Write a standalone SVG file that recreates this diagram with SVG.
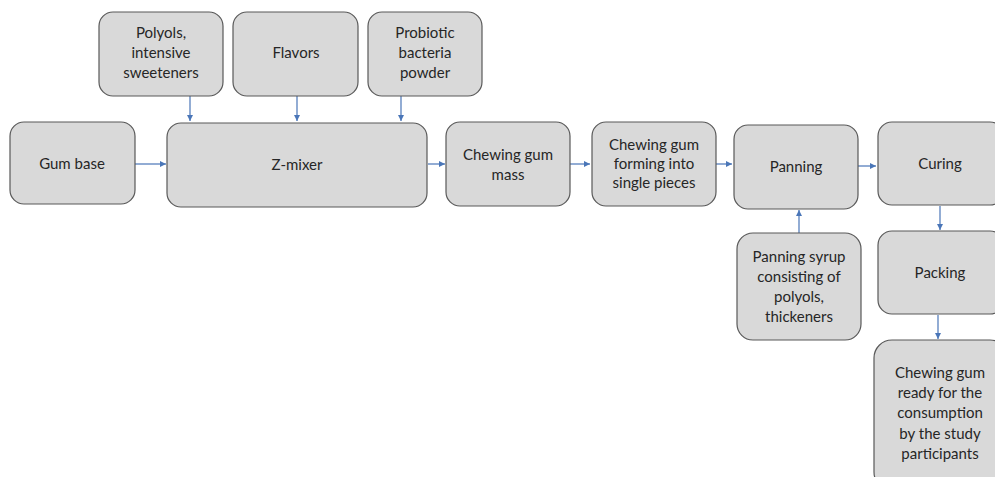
<svg xmlns="http://www.w3.org/2000/svg" width="995" height="477" viewBox="0 0 995 477">
  <style>
    .box { fill: #d9d9d9; stroke: #595959; stroke-width: 1.2; }
    .lbl { font-family: Lato, "Open Sans", "Liberation Sans", sans-serif; font-size: 15px; fill: #262626; text-anchor: middle; }
    .arrow { stroke: #4a76b8; stroke-width: 1.2; fill: none; marker-end: url(#head); }
  </style>
  <defs>
    <marker id="head" viewBox="0 0 10 10" refX="10" refY="5" markerWidth="6" markerHeight="6" markerUnits="userSpaceOnUse" orient="auto">
      <path d="M0,0 L10,5 L0,10 z" fill="#4a76b8"/>
    </marker>
  </defs>
  <rect width="995" height="477" fill="#ffffff"/>

  <g id="connectors">
    <line class="arrow" x1="135" y1="164" x2="166" y2="164"/>
    <line class="arrow" x1="190" y1="96" x2="190" y2="121"/>
    <line class="arrow" x1="297" y1="96" x2="297" y2="121"/>
    <line class="arrow" x1="401" y1="96" x2="401" y2="121"/>
    <line class="arrow" x1="428" y1="164" x2="445" y2="164"/>
    <line class="arrow" x1="570" y1="164" x2="590" y2="164"/>
    <line class="arrow" x1="716" y1="164" x2="732" y2="164"/>
    <line class="arrow" x1="858" y1="166" x2="876" y2="166"/>
    <line class="arrow" x1="799" y1="233" x2="799" y2="210"/>
    <line class="arrow" x1="940" y1="206" x2="940" y2="230"/>
    <line class="arrow" x1="938" y1="315" x2="938" y2="339"/>
  </g>

  <g id="polyols">
    <rect class="box" x="99" y="12" width="124" height="84" rx="14"/>
    <text class="lbl" x="161" y="38">Polyols,</text>
    <text class="lbl" x="161" y="58">intensive</text>
    <text class="lbl" x="161" y="78">sweeteners</text>
  </g>
  <g id="flavors">
    <rect class="box" x="233" y="12" width="125" height="84" rx="14"/>
    <text class="lbl" x="296" y="58">Flavors</text>
  </g>
  <g id="probiotic">
    <rect class="box" x="368" y="12" width="114" height="84" rx="14"/>
    <text class="lbl" x="425" y="38">Probiotic</text>
    <text class="lbl" x="425" y="58">bacteria</text>
    <text class="lbl" x="425" y="78">powder</text>
  </g>
  <g id="gum-base">
    <rect class="box" x="10" y="122" width="125" height="82" rx="14"/>
    <text class="lbl" x="72" y="169">Gum base</text>
  </g>
  <g id="z-mixer">
    <rect class="box" x="167" y="123" width="260" height="84" rx="14"/>
    <text class="lbl" x="297" y="170">Z-mixer</text>
  </g>
  <g id="gum-mass">
    <rect class="box" x="446" y="122" width="124" height="84" rx="14"/>
    <text class="lbl" x="508" y="160">Chewing gum</text>
    <text class="lbl" x="508" y="180">mass</text>
  </g>
  <g id="forming">
    <rect class="box" x="592" y="122" width="124" height="84" rx="14"/>
    <text class="lbl" x="654" y="150">Chewing gum</text>
    <text class="lbl" x="654" y="169">forming into</text>
    <text class="lbl" x="654" y="188">single pieces</text>
  </g>
  <g id="panning">
    <rect class="box" x="734" y="125" width="124" height="84" rx="14"/>
    <text class="lbl" x="796" y="172">Panning</text>
  </g>
  <g id="curing">
    <rect class="box" x="878" y="122" width="126" height="83" rx="14"/>
    <text class="lbl" x="940" y="169">Curing</text>
  </g>
  <g id="panning-syrup">
    <rect class="box" x="737" y="233" width="124" height="107" rx="16"/>
    <text class="lbl" x="799" y="262">Panning syrup</text>
    <text class="lbl" x="799" y="282">consisting of</text>
    <text class="lbl" x="799" y="302">polyols,</text>
    <text class="lbl" x="799" y="322">thickeners</text>
  </g>
  <g id="packing">
    <rect class="box" x="878" y="231" width="126" height="83" rx="14"/>
    <text class="lbl" x="940" y="278">Packing</text>
  </g>
  <g id="ready">
    <rect class="box" x="874" y="340" width="134" height="150" rx="18"/>
    <text class="lbl" x="940" y="378">Chewing gum</text>
    <text class="lbl" x="940" y="398">ready for the</text>
    <text class="lbl" x="940" y="418">consumption</text>
    <text class="lbl" x="940" y="439">by the study</text>
    <text class="lbl" x="940" y="459">participants</text>
  </g>
</svg>
